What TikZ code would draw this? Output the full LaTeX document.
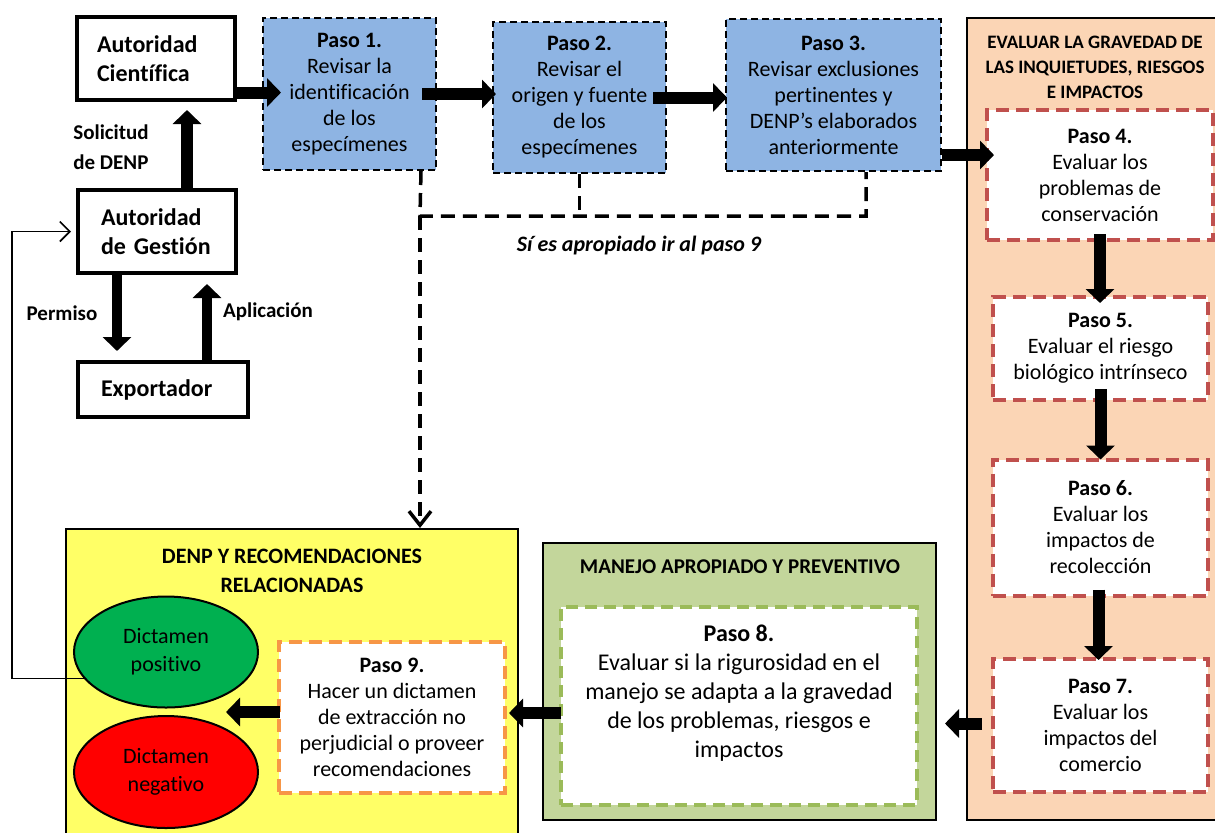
\documentclass[tikz,border=0pt]{standalone}
\usepackage{fontspec}
\setmainfont[RawFeature={-liga;-clig;-calt;-dlig}]{Carlito}
\usepackage{tikz}
\usetikzlibrary{arrows.meta,shapes.geometric}
\definecolor{pasoblue}{HTML}{8EB4E3}
\definecolor{evalpeach}{HTML}{FBD5B5}
\definecolor{evalred}{HTML}{C0504D}
\definecolor{manejogreen}{HTML}{C3D69B}
\definecolor{manejodash}{HTML}{9BBB59}
\definecolor{denpyellow}{HTML}{FFFF66}
\definecolor{denporange}{HTML}{F79646}
\definecolor{dictgreen}{HTML}{00B050}
\newcommand{\paso}[1]{\textbf{Paso #1.}}
\newcommand{\setfs}[2]{\fontsize{#1}{#2}\selectfont}

\begin{document}
\begin{tikzpicture}[x=0.5pt,y=-0.5pt,
  autbox/.style={draw, line width=2pt, align=left, inner sep=0pt, font=\bfseries\setfs{12}{14.5}},
  pasobox/.style={draw, line width=1pt, dash pattern=on 3.5pt off 2pt, fill=pasoblue, align=center, inner sep=0pt, font=\setfs{11}{13}},
  evalbox/.style={draw=evalred, line width=2pt, dash pattern=on 6.5pt off 3.5pt, fill=white, align=center, inner sep=0pt, font=\setfs{11}{13}},
  panel/.style={draw, line width=1pt},
  labeltext/.style={align=left, font=\bfseries\setfs{10.5}{15}},
  bigarrow/.style={line width=6pt, -{Triangle[length=7pt,width=14pt]}},
  dashline/.style={line width=1.75pt, dash pattern=on 7pt off 4pt}]
\useasboundingbox (0,0) rectangle (1215,832);
%\draw [help lines] (0,0) grid (1215,832);
% panels
\node [panel, fill=evalpeach, minimum width=129pt, minimum height=401pt] (evalpanel) at (1096,419) {};
\node [align=center, font=\bfseries\setfs{9.5}{12.5}] (evaltitle) at (1095,67) {EVALUAR LA GRAVEDAD DE\\LAS INQUIETUDES, RIESGOS\\E IMPACTOS};
\node [panel, fill=manejogreen, minimum width=196.5pt, minimum height=138.5pt] (manejo) at (739.5,681.5) {};
\node [font=\bfseries\setfs{10.5}{13}] (manejotitle) at (740,567) {MANEJO APROPIADO Y PREVENTIVO};
\node [panel, fill=denpyellow, minimum width=226pt, minimum height=158pt] (denp) at (292,687) {};
\node [align=center, font=\bfseries\setfs{11}{14.5}] (denptitle) at (292,571) {DENP Y RECOMENDACIONES\\RELACIONADAS};
% autoridades
\node [autbox, text width=59pt, minimum width=79pt, minimum height=41.5pt] (cient) at (156,58.5) {Autoridad\\Científica};
\node [autbox, text width=56pt, minimum width=79pt, minimum height=41.5pt] (gest) at (157,231.5) {Autoridad\\de Gestión};
\node [autbox, text width=62pt, minimum width=85pt, minimum height=27.5pt] (expo) at (163,389.5) {Exportador};
\node [labeltext] (solic) at (111,147) {Solicitud\\de DENP};
\node [labeltext] (permiso) at (62,313) {Permiso};
\node [labeltext] (aplic) at (268,312) {Aplicación};
% pasos 1-3
\node [pasobox, minimum width=86.5pt, minimum height=76pt] (paso1) at (349.5,94) {\paso{1}\\Revisar la\\identificación\\de los\\especímenes};
\node [pasobox, minimum width=86.5pt, minimum height=75.5pt] (paso2) at (579.5,97.5) {\paso{2}\\Revisar el\\origen y fuente\\de los\\especímenes};
\node [pasobox, minimum width=107.5pt, minimum height=76pt] (paso3) at (833.5,95) {\paso{3}\\Revisar exclusiones\\pertinentes y\\DENP’s elaborados\\anteriormente};
% pasos 4-7
\node [evalbox, minimum width=113pt, minimum height=65pt] (paso4) at (1100,175) {\paso{4}\\Evaluar los\\problemas de\\conservación};
\node [evalbox, minimum width=107.5pt, minimum height=51.5pt] (paso5) at (1100.5,348.5) {\paso{5}\\Evaluar el riesgo\\biológico intrínseco};
\node [evalbox, minimum width=107.5pt, minimum height=68pt] (paso6) at (1100.5,527.5) {\paso{6}\\Evaluar los\\impactos de\\recolección};
\node [evalbox, minimum width=107.5pt, minimum height=66.5pt] (paso7) at (1100.5,725.5) {\paso{7}\\Evaluar los\\impactos del\\comercio};
% paso 8, paso 9
\node [evalbox, draw=manejodash, dash pattern=on 6pt off 3.5pt, minimum width=178pt, minimum height=99pt, font=\setfs{12}{14.5}] (paso8) at (739,706) {\paso{8}\\Evaluar si la rigurosidad en el\\manejo se adapta a la gravedad\\de los problemas, riesgos e\\impactos\\\mbox{}};
\node [evalbox, draw=denporange, minimum width=113pt, minimum height=75.5pt] (paso9) at (392,717.5) {\paso{9}\\Hacer un dictamen\\de extracción no\\perjudicial o proveer\\recomendaciones};
\node [ellipse, draw, line width=1pt, fill=dictgreen, minimum width=92pt, minimum height=55.5pt, align=center, font=\setfs{11}{14}] (posit) at (166,652) {Dictamen\\positivo};
\node [ellipse, draw, line width=1pt, fill=red, minimum width=92pt, minimum height=56pt, align=center, font=\setfs{11}{14}] (negat) at (166,772) {Dictamen\\negativo};
\coordinate (dict) at (226,712);
% flechas
\draw [bigarrow, shorten >=4pt] ([xshift=15pt]gest.north) -- ([xshift=15pt]gest.north |- cient.south);
\draw [bigarrow, line width=5pt, shorten >=4.5pt] ([xshift=-20pt]gest.south) -- ([xshift=-20pt]gest.south |- expo.north);
\draw [bigarrow, line width=5pt, shorten >=4.5pt] ([xshift=22pt]expo.north) -- ([xshift=22pt]expo.north |- gest.south);
\draw [bigarrow, shorten >=-9.5pt] ([yshift=-17pt]cient.east) -- ([yshift=-17pt]cient.east -| paso1.west);
\draw [bigarrow, shorten >=-2pt] ([xshift=-7.5pt]paso1.east) -- (paso1.east -| paso2.west);
\draw [bigarrow, shorten >=-1pt] ([xshift=-7pt]paso2.east) -- (paso2.east -| paso3.west);
\draw [bigarrow, shorten >=-4.5pt] ([yshift=-30pt]paso3.east) -- ([yshift=-30pt]paso3.east -| paso4.west);
\draw [bigarrow, shorten >=-4pt] ([yshift=4pt]paso4.south) -- (paso4.south |- paso5.north);
\draw [bigarrow, shorten >=-1pt] ([yshift=6.5pt]paso5.south) -- (paso5.south |- paso6.north);
\draw [bigarrow, shorten >=-1.5pt] ([xshift=-1pt,yshift=4pt]paso6.south) -- ([xshift=-1pt]paso6.south |- paso7.north);
\draw [bigarrow, shorten >=4pt] ([xshift=-4.5pt,yshift=1pt]paso7.west) -- ([yshift=1pt]paso7.west -| manejo.east);
\draw [bigarrow, shorten >=-5pt] ([xshift=1pt,yshift=-3.5pt]paso8.west) -- ([yshift=-3.5pt]paso8.west -| denp.east);
\draw [bigarrow] ([xshift=1.5pt,yshift=2.75pt]paso9.west) -- (dict);
% rama discontinua
\coordinate (sibajada) at (420,216);
\draw [dashline] ([xshift=-8pt]paso1.south east) -- (sibajada) -| ([xshift=-38pt]paso3.south east);
\draw [dashline] (paso2.south) -- (paso2.south |- sibajada);
\draw [dashline, -{Straight Barb[length=7pt,width=11pt]}] (sibajada) -- (sibajada |- denp.north);
\node [font=\bfseries\itshape\setfs{11}{13}] (siapropiado) at (639,246) {Sí es apropiado ir al paso 9};
% vuelta
\coordinate (vuelta) at (12,678);
\draw [line width=0.8pt, shorten >=2.5pt, -{Straight Barb[length=5pt,width=10pt]}] (posit.198) -- (posit.198 -| vuelta) |- (gest.west);
\end{tikzpicture}
\end{document}
